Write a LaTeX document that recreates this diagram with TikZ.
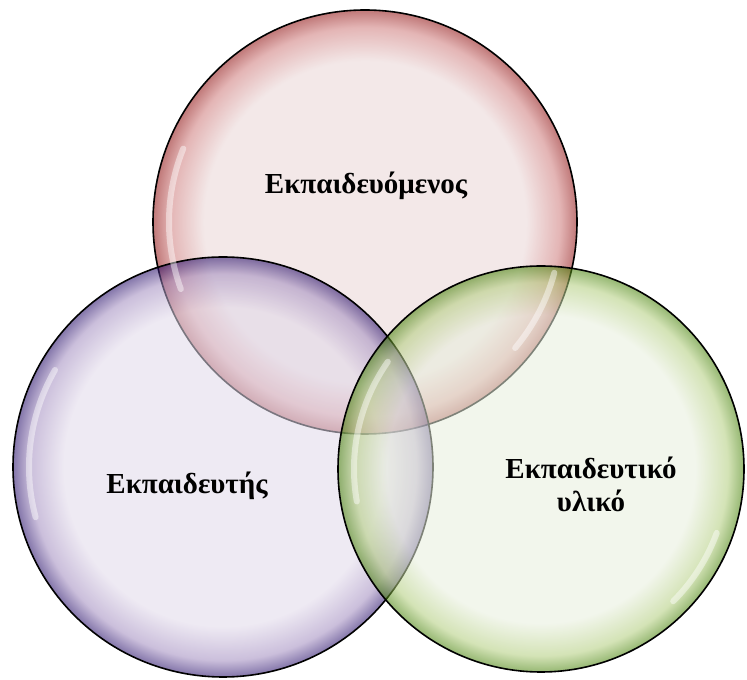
\documentclass[tikz,border=0pt]{standalone}
\usepackage{fontspec}
\setmainfont{Liberation Serif}
\usepackage{xcolor}
\usepackage{tikz}

\definecolor{redfill}{RGB}{233,213,213}
\definecolor{redmid}{RGB}{205,120,120}
\definecolor{rededge}{RGB}{140,10,10}
\definecolor{purplefill}{RGB}{224,216,233}
\definecolor{purplemid}{RGB}{160,138,190}
\definecolor{purpleedge}{RGB}{30,5,100}
\definecolor{greenfill}{RGB}{231,238,220}
\definecolor{greenmid}{RGB}{176,204,122}
\definecolor{greenedge}{RGB}{64,125,0}

\pgfdeclareradialshading{redring}{\pgfpoint{0bp}{0bp}}{color(0bp)=(redfill); color(19bp)=(redfill); color(23bp)=(redmid); color(25bp)=(rededge); color(50bp)=(rededge)}
\pgfdeclareradialshading{purplering}{\pgfpoint{0bp}{0bp}}{color(0bp)=(purplefill); color(19bp)=(purplefill); color(23bp)=(purplemid); color(25bp)=(purpleedge); color(50bp)=(purpleedge)}
\pgfdeclareradialshading{greenring}{\pgfpoint{0bp}{0bp}}{color(0bp)=(greenfill); color(19bp)=(greenfill); color(23bp)=(greenmid); color(25bp)=(greenedge); color(50bp)=(greenedge)}

\begin{document}
\begin{tikzpicture}[x=1pt, y=1pt,
    set/.style={circle, draw=black, line width=1.6pt, fill opacity=0.55, inner sep=0pt},
    gloss/.style={white, line width=6pt, opacity=0.45, line cap=round},
    settext/.style={font=\bfseries\fontsize{29}{33}\selectfont, align=center}]
            \useasboundingbox (0,0) rectangle (747,680);
            \node[set, shading=redring, minimum size=424pt] (learner) at (365,458) {};
            \node[set, shading=purplering, minimum size=420pt] (trainer) at (223,213) {};
            \node[set, shading=greenring, minimum size=406pt] (material) at (541,211) {};
            % highlights
            \draw[gloss] (learner.center) ++(158:196) arc[start angle=158, end angle=200, radius=196];
            \draw[gloss] (learner.center) ++(-15:196) arc[start angle=-15, end angle=-40, radius=196];
            \draw[gloss] (trainer.center) ++(150:194) arc[start angle=150, end angle=195, radius=194];
            \draw[gloss] (material.center) ++(145:187) arc[start angle=145, end angle=190, radius=187];
            \draw[gloss] (material.center) ++(-20:187) arc[start angle=-20, end angle=-45, radius=187];
            % labels
            \node[settext] (learnertext) at (366,494) {Εκπαιδευόμενος};
            \node[settext] (trainertext) at (187,194) {Εκπαιδευτής};
            \node[settext] (materialtext) at (591,196) {Εκπαιδευτικό\\υλικό};
\end{tikzpicture}
\end{document}
